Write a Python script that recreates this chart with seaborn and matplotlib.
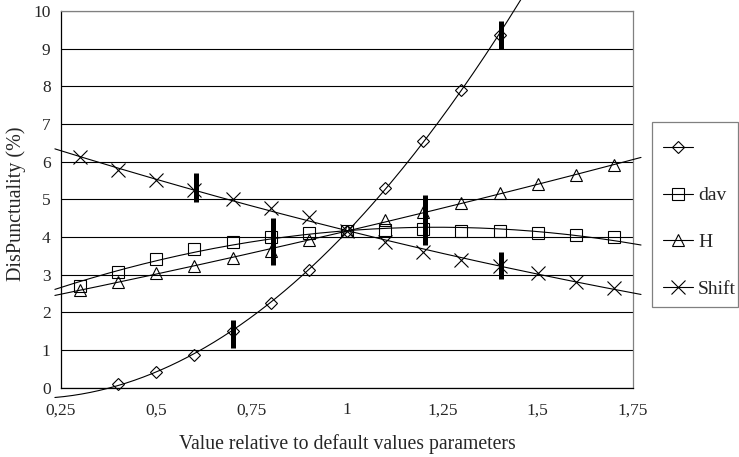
import numpy as np
import pandas as pd
import matplotlib
matplotlib.use("Agg")
import matplotlib.pyplot as plt
from matplotlib.lines import Line2D
from matplotlib.patches import Rectangle
import seaborn as sns

# values
x_diamond = [0.4, 0.5, 0.6, 0.7, 0.8, 0.9, 1.0, 1.1, 1.2, 1.3, 1.4]
diamond = [0.10, 0.42, 0.87, 1.50, 2.25, 3.12, 4.15, 5.31, 6.56, 7.91, 9.35]

x_full = [0.3, 0.4, 0.5, 0.6, 0.7, 0.8, 0.9, 1.0, 1.1, 1.2, 1.3, 1.4, 1.5, 1.6, 1.7]
dav = [2.71, 3.08, 3.42, 3.68, 3.87, 4.01, 4.10, 4.15, 4.19, 4.21, 4.17, 4.16, 4.10, 4.06, 4.01]
H = [2.60, 2.81, 3.04, 3.23, 3.43, 3.62, 3.92, 4.15, 4.45, 4.66, 4.91, 5.16, 5.40, 5.65, 5.90]
shift = [6.13, 5.78, 5.51, 5.25, 5.00, 4.78, 4.52, 4.15, 3.88, 3.59, 3.39, 3.23, 3.04, 2.81, 2.65]

# thick black range bars
bar_x = [0.605, 0.70, 0.805, 1.205, 1.403, 1.405]
bar_lo = [4.94, 1.06, 3.26, 3.79, 2.89, 8.99]
bar_hi = [5.70, 1.80, 4.50, 5.12, 3.61, 9.74]

series = [
    ("", x_diamond, diamond, "D", 6.5),
    ("dav", x_full, dav, "s", 9),
    ("H", x_full, H, "^", 9),
    ("Shift", x_full, shift, "x", 10),
]

sns.set_style("white")
plt.rcParams["font.family"] = ["Liberation Serif", "DejaVu Serif"]

W, Hpx = 739, 457
fig = plt.figure(figsize=(7.39, 4.57), dpi=100)
ax = fig.add_axes([61 / W, 1 - 387.7 / Hpx, 572 / W, 376.7 / Hpx])

# polynomial trend lines (order 2), slightly extended like the original
xt = np.linspace(0.234, 1.771, 200)
for name, xs, ys, mk, ms in series:
    coef = np.polyfit(xs, ys, 2)
    fit = pd.DataFrame({"x": xt, "y": np.polyval(coef, xt)})
    sns.lineplot(data=fit, x="x", y="y", ax=ax, color="black", lw=0.8,
                 clip_on=False, zorder=3)
    ax.plot(xs, ys, linestyle="none", marker=mk, markersize=ms,
            markerfacecolor="none", markeredgecolor="black",
            markeredgewidth=0.8, clip_on=False, zorder=4)

ax.vlines(bar_x, bar_lo, bar_hi, color="black", lw=3.6, zorder=5)

ax.set_xlim(0.25, 1.75)
ax.set_ylim(0, 10)
ax.set_xticks([0.25, 0.5, 0.75, 1.0, 1.25, 1.5, 1.75])
ax.set_xticklabels(["0,25", "0,5", "0,75", "1", "1,25", "1,5", "1,75"])
ax.set_yticks(range(0, 11))
ax.tick_params(axis="both", direction="out", length=4, width=0.8,
               color="black", labelsize=12.5)
ax.tick_params(axis="x", pad=6.5)
ax.tick_params(axis="y", pad=3.5)
ax.yaxis.grid(True, color="black", lw=0.8)
ax.set_axisbelow(True)

for side in ["left", "bottom"]:
    ax.spines[side].set_color("black")
    ax.spines[side].set_linewidth(0.9)
for side in ["top", "right"]:
    ax.spines[side].set_color("#808080")
    ax.spines[side].set_linewidth(0.9)

ax.set_xlabel("Value relative to default values parameters", fontsize=14.2)
ax.set_ylabel("DisPunctuality (%)", fontsize=14.5)
ax.xaxis.set_label_coords(0.5, -0.122)
ax.yaxis.set_label_coords(-0.062, 0.488)

# legend: content without frame, box drawn separately
handles = [Line2D([], [], color="black", lw=0.8, marker=mk, markersize=ms,
                  markerfacecolor="none", markeredgecolor="black",
                  markeredgewidth=0.8)
           for _, _, _, mk, ms in series]
labels = [s[0] for s in series]
fig.legend(handles, labels, loc="upper left",
           bbox_to_anchor=(663 / W, 1 - 140 / Hpx),
           fontsize=14, frameon=False,
           handlelength=1.55, handletextpad=0.25,
           labelspacing=1.5, borderpad=0, borderaxespad=0)
fig.patches.append(Rectangle((652 / W, 1 - 307 / Hpx), 86 / W, 185 / Hpx,
                             transform=fig.transFigure, fill=False,
                             edgecolor="#808080", lw=0.9))

fig.savefig("out.png", dpi=100)
